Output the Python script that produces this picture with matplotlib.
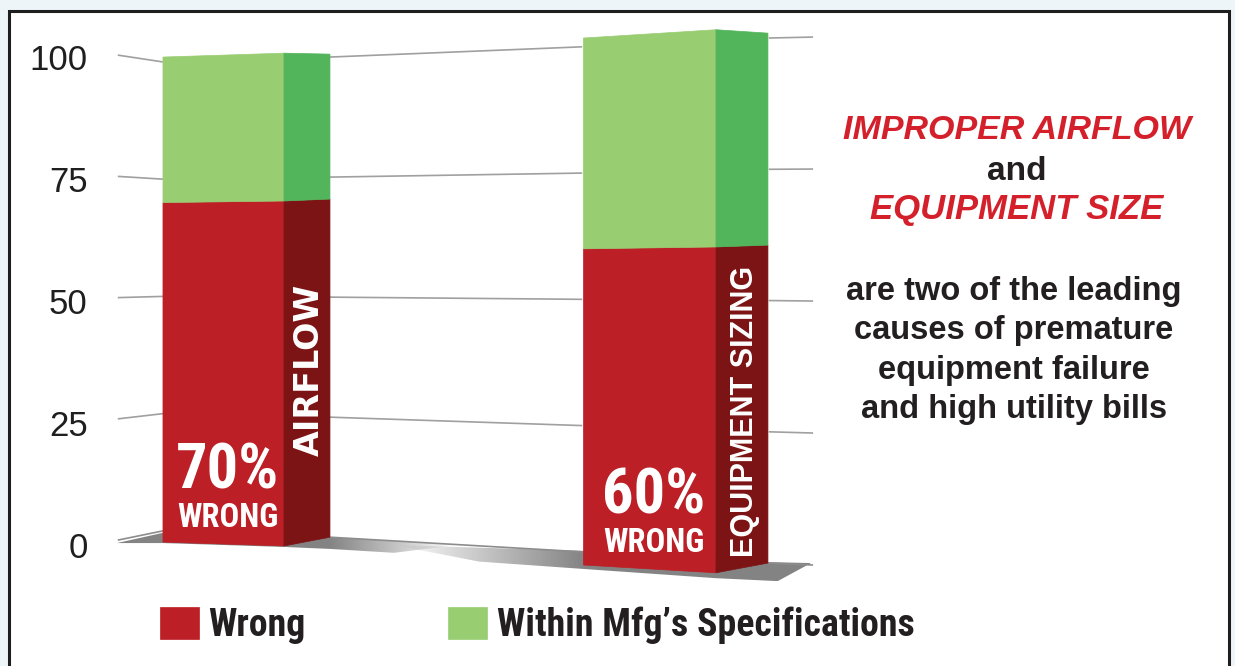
import numpy as np
import matplotlib.pyplot as plt
from matplotlib.patches import Polygon, Rectangle

categories = ['AIRFLOW', 'EQUIPMENT SIZING']
wrong = [70, 60]
within = [30, 40]
pct_labels = ['70%', '60%']
ticks = [0, 25, 50, 75, 100]
series_labels = ['Wrong', 'Within Mfg\u2019s Specifications']

RED, RED_SIDE = '#bc1f25', '#7c1416'
GREEN, GREEN_SIDE = '#99cd72', '#52b55b'
INK = '#231f20'
HEAD_RED = '#d4202a'
NARROW = ['Roboto Condensed', 'DejaVu Sans']
SANS = ['Liberation Sans', 'DejaVu Sans']

# fake perspective: every vertical edge has its own floor offset and gain,
# so a value v sits at y = off + gain * v on that edge
bar_edges = [
    [(-0.142, 0.6, 0.994), (0.142, -0.2, 1.010), (0.250, 1.6, 0.990)],
    [(0.845, -4.1, 1.080), (1.156, -5.7, 1.113), (1.278, -3.7, 1.086)],
]
grid_segments = [
    [(-0.248, 1.0, 0.994), (-0.142, 2.9, 0.961)],
    [(0.250, 1.6, 0.984), (0.842, -1.4, 1.035)],
    [(1.280, -3.7, 1.076), (1.384, -4.1, 1.082)],
]
# floor shadows: outline (x, y), gradient x-range and alpha at both ends
floors = [
    ([(-0.25, 0.4), (-0.142, 2.5), (0.25, 1.6), (0.55, 0.0), (0.40, -1.6),
      (0.25, -0.8), (0.142, -0.4), (-0.142, 0.4)], (0.25, 0.55), (0.9, 0.0)),
    ([(0.40, 0.0), (0.844, -1.2), (1.278, -3.5), (1.379, -3.7), (1.301, -7.4),
      (1.156, -6.8), (0.844, -4.9), (0.60, -3.4)], (0.40, 0.844), (0.0, 0.9)),
]
# baseline of the big percentage, and the gap down to "WRONG"
label_y = [11.5, 6.4]
label_gap = 7.9


def at(edge, v):
    x, off, gain = edge
    return (x, off + gain * v)


fig = plt.figure(figsize=(12.35, 6.66), dpi=100, facecolor='#eef5f9')
fig.patches.append(Rectangle((9 / 1235, -0.05), 1220 / 1235, 1.05 - 11 / 666,
                             transform=fig.transFigure, facecolor='white',
                             edgecolor='#1e1e1e', lw=2.2, zorder=-5))

ax = fig.add_axes([0.0947, 0.0991, 0.5692, 0.8709])
ax.set_facecolor('none')

# gridlines, only visible between the bars
for v in ticks:
    for e0, e1 in grid_segments:
        (x0, y0), (x1, y1) = at(e0, v), at(e1, v)
        ax.plot([x0, x1], [y0, y1], color='#8c8c8c' if v == 0 else '#a0a0a0',
                lw=1.2, zorder=1.8 if v == 0 else 1, solid_capstyle='butt')

# floor shadows with a horizontal fade
for pts, (gx0, gx1), (a0, a1) in floors:
    poly = Polygon(pts, closed=True, facecolor='none', edgecolor='none')
    ax.add_patch(poly)
    xs = [p[0] for p in pts]
    ys = [p[1] for p in pts]
    n = 128
    gx = np.linspace(min(xs), max(xs), n)
    rgba = np.zeros((1, n, 4))
    rgba[..., :3] = 0.46
    rgba[0, :, 3] = np.interp(gx, [gx0, gx1], [a0, a1])
    im = ax.imshow(rgba, extent=[min(xs), max(xs), min(ys), max(ys)],
                   aspect='auto', interpolation='bilinear', zorder=1.5)
    im.set_clip_path(poly)

# stacked bars: front face and right side face
front_patches = {}
for i, cat in enumerate(categories):
    fl, fr, sd = bar_edges[i]
    segs = [(0, wrong[i], RED, RED_SIDE),
            (wrong[i], wrong[i] + within[i], GREEN, GREEN_SIDE)]
    for lo, hi, c_front, c_side in segs:
        front = Polygon([at(fl, lo), at(fr, lo), at(fr, hi), at(fl, hi)],
                        closed=True, facecolor=c_front, edgecolor=c_front,
                        lw=0.5, zorder=3)
        side = Polygon([at(fr, lo), at(sd, lo), at(sd, hi), at(fr, hi)],
                       closed=True, facecolor=c_side, edgecolor=c_side,
                       lw=0.5, zorder=3)
        ax.add_patch(front)
        ax.add_patch(side)
        front_patches.setdefault(c_front, front)

    xc = (fl[0] + fr[0]) / 2 + 0.01
    ax.text(xc, label_y[i], pct_labels[i], color='white', ha='center',
            va='baseline', fontsize=45, fontweight='bold', family=NARROW,
            zorder=4)
    ax.text(xc, label_y[i] - label_gap, 'WRONG', color='white', ha='center',
            va='baseline', fontsize=23.5, fontweight='bold', family=NARROW,
            zorder=4)
    # category name runs up the dark red side
    sx = (fr[0] + sd[0]) / 2 + 0.006
    sy = (at(fr, 0)[1] + at(sd, wrong[i])[1]) / 2 + 1.0 * (i == 0) - 0.5
    ax.text(sx, sy, cat, rotation=90, color='white', ha='center', va='center',
            fontsize=22 if i else 24, fontweight='bold',
            family=['DejaVu Sans'] if i == 0 else SANS, zorder=4)

ax.set_xlim(-0.25, 1.4)
ax.set_ylim(-11.27, 107.6)
ax.set_yticks(ticks)
ax.set_yticklabels([str(t) for t in ticks], fontsize=25, color='#1f1f1f',
                   family=SANS)
ax.tick_params(axis='y', length=0, pad=21)
ax.set_xticks([])
for s in ax.spines.values():
    s.set_visible(False)

# headline text on the right
cx = 1017 / 1235
fig.text(cx, 1 - 139 / 666, 'IMPROPER AIRFLOW', color=HEAD_RED, ha='center',
         va='baseline', fontsize=24.5, fontweight='bold', fontstyle='italic',
         family=SANS)
fig.text(cx, 1 - 180 / 666, 'and', color=INK, ha='center', va='baseline',
         fontsize=24, fontweight='bold', family=SANS)
fig.text(cx, 1 - 219 / 666, 'EQUIPMENT SIZE', color=HEAD_RED, ha='center',
         va='baseline', fontsize=25, fontweight='bold', fontstyle='italic',
         family=SANS)
body = ['are two of the leading', 'causes of premature',
        'equipment failure', 'and high utility bills']
for k, line in enumerate(body):
    fig.text(1014 / 1235, 1 - (300 + 39.3 * k) / 666, line, color=INK,
             ha='center', va='baseline', fontsize=23.5, fontweight='bold',
             family=SANS)

fig.legend(handles=[front_patches[RED], front_patches[GREEN]],
           labels=series_labels, loc='center left',
           bbox_to_anchor=(160 / 1235, 1 - 625 / 666), ncol=2, frameon=False,
           prop={'family': NARROW, 'weight': 'bold', 'size': 27.3},
           labelcolor=INK, handlelength=1.03, handleheight=0.92,
           handletextpad=0.25, columnspacing=3.75, borderpad=0,
           borderaxespad=0)

fig.savefig('out.png', dpi=100, facecolor=fig.get_facecolor())
